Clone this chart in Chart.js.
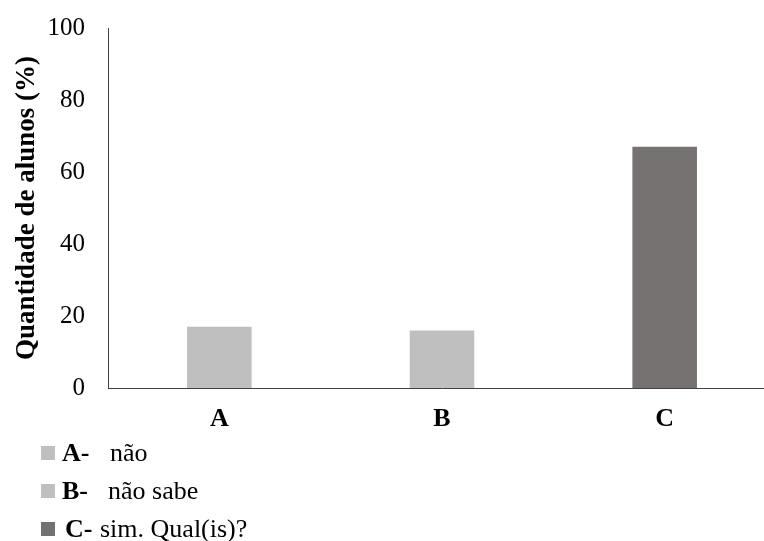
<!DOCTYPE html>
<html>
<head>
<meta charset="utf-8">
<script src="https://cdn.jsdelivr.net/npm/chart.js@4/dist/chart.umd.min.js"></script>
<style>
  html, body { margin: 0; padding: 0; background: #fff; overflow: hidden; }
  #wrap { position: relative; width: 776px; height: 541px; }
  #legend { position: absolute; left: 41px; top: 434px; font-family: "Liberation Serif", "Times New Roman", serif; font-size: 26px; color: #000; }
  .row { position: relative; height: 38px; line-height: 38px; white-space: nowrap; }
  .sw { position: absolute; left: 0; top: 12px; width: 14px; height: 14px; }
  .lt { position: absolute; font-weight: bold; }
  .tx { position: absolute; }
</style>
</head>
<body>
<div id="wrap">
  <canvas id="c" width="776" height="541"></canvas>
  <div id="legend"></div>
</div>
<script>
// Answer categories and share of students (%)
const categories = ['A', 'B', 'C'];
const percentages = [17, 16, 67];
const barColors = ['#bfbfbf', '#bfbfbf', '#767171'];
const yTicks = [0, 20, 40, 60, 80, 100];
const legendLetters = ['A-', 'B-', 'C-'];
const legendTexts = ['não', 'não sabe', 'sim. Qual(is)?'];

const serif = '"Liberation Serif", "Times New Roman", serif';

// Legend rows below the chart (bold letter + plain description)
const letterX = [21, 21, 24];
const textX = [69, 67, 59];
const legend = document.getElementById('legend');
legendLetters.forEach((l, i) => {
  const row = document.createElement('div');
  row.className = 'row';
  const sw = document.createElement('span');
  sw.className = 'sw';
  sw.style.background = barColors[i];
  const b = document.createElement('span');
  b.className = 'lt';
  b.style.left = letterX[i] + 'px';
  b.textContent = l;
  const t = document.createElement('span');
  t.className = 'tx';
  t.style.left = textX[i] + 'px';
  t.textContent = legendTexts[i];
  row.append(sw, b, t);
  legend.appendChild(row);
});

new Chart(document.getElementById('c'), {
  type: 'bar',
  data: {
    labels: categories,
    datasets: [{
      data: percentages,
      backgroundColor: barColors,
      borderWidth: 0,
      barPercentage: 0.29,
      categoryPercentage: 1.0
    }]
  },
  options: {
    responsive: false,
    animation: false,
    layout: { padding: { top: 28, right: 0, bottom: 0, left: 0 } },
    plugins: { legend: { display: false }, tooltip: { enabled: false } },
    scales: {
      x: {
        grid: { display: false, drawTicks: false },
        border: { display: true, color: '#404040', width: 1 },
        ticks: { color: '#000', padding: 16, font: { family: serif, size: 26, weight: 'bold' } },
        afterFit: s => { s.height = 153; }
      },
      y: {
        min: 0, max: 100,
        afterBuildTicks: s => { s.ticks = yTicks.map(v => ({ value: v })); },
        grid: { display: false, drawTicks: false },
        border: { display: true, color: '#404040', width: 1 },
        ticks: { color: '#000', padding: 23, font: { family: serif, size: 25 } },
        title: {
          display: true,
          text: 'Quantidade de alunos (%)',
          color: '#000',
          padding: { top: 11, bottom: 0 },
          font: { family: serif, size: 27, weight: 'bold' }
        },
        afterFit: s => { s.width = 108; s.paddingTop = 0; s.paddingBottom = 0; }
      }
    }
  }
});
</script>
</body>
</html>
